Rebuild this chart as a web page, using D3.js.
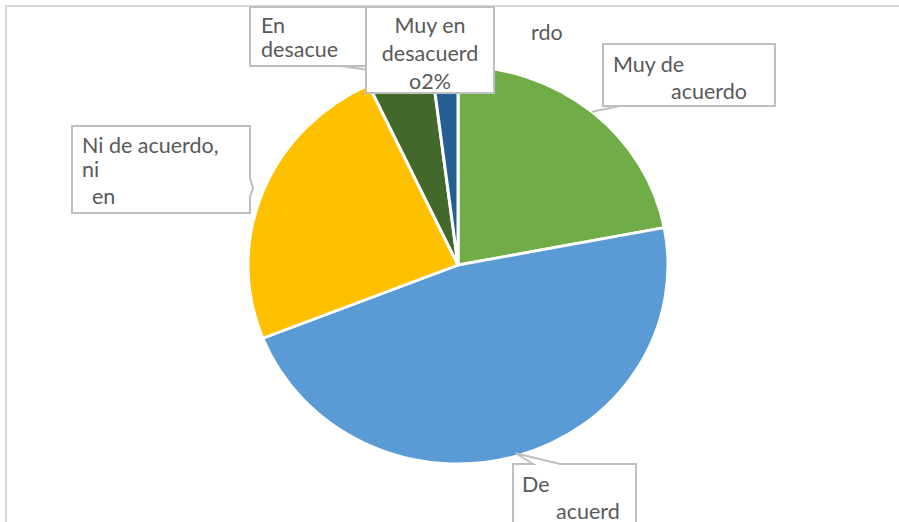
<!DOCTYPE html>
<html>
<head>
<meta charset="utf-8">
<script src="https://cdn.jsdelivr.net/npm/d3@7"></script>
<style>
  body { margin: 0; background: #fff; }
  text { font-family: Lato, "Open Sans", sans-serif; font-size: 21.5px; fill: #595959; }
</style>
</head>
<body>
<div id="chart"></div>
<script>
// Data (share of answers, %)
const categories = ["Muy de acuerdo", "De acuerdo", "Ni de acuerdo, ni en desacuerdo", "En desacuerdo", "Muy en desacuerdo"];
const values = [22, 47, 24, 5, 2];
const colors = ["#70ad47", "#5b9bd5", "#ffc000", "#43682b", "#255e91"];
// label text as it is shown (cut off) in the chart
const labelLines = [
    ["Muy de", "acuerdo"],
    ["De", "acuerd"],
    ["Ni de acuerdo,", "ni", "en"],
    ["En", "desacue"],
    ["Muy en", "desacuerd", "o2%"]
];
const strayText = "rdo";

const W = 899, H = 522;
const cx = 458, cy = 265, rx = 210, ry = 199;

const svg = d3.select("#chart").append("svg")
    .attr("width", W)
    .attr("height", H);

// chart frame
svg.append("rect")
    .attr("x", 6).attr("y", 6)
    .attr("width", W + 10).attr("height", H + 10)
    .attr("fill", "none")
    .attr("stroke", "#d9d9d9")
    .attr("stroke-width", 2);

const pie = d3.pie().sort(null).value(d => d);
const arcs = pie(values);
const arc = d3.arc().innerRadius(0).outerRadius(rx);

const pieG = svg.append("g")
    .attr("transform", `translate(${cx},${cy}) scale(1,${ry / rx})`);

pieG.selectAll("path")
    .data(arcs)
    .enter()
    .append("path")
    .attr("d", arc)
    .attr("fill", (d, i) => colors[i])
    .attr("stroke", "#fff")
    .attr("stroke-width", 3);

// point on the pie edge at the middle of a slice
function edgePoint(d, k) {
    const a = (d.startAngle + d.endAngle) / 2;
    return [cx + rx * k * Math.sin(a), cy - ry * k * Math.cos(a)];
}

// label boxes (layout only)
const boxes = [
    { x: 603, y: 44, w: 172, h: 62, lines: [[613, 72], [671, 99]], anchor: "start" },
    { x: 513, y: 464, w: 123, h: 80, lines: [[522, 492], [556, 519]], anchor: "start" },
    { x: 72, y: 126, w: 178, h: 87, lines: [[82, 153], [82, 177], [92, 204]], anchor: "start" },
    { x: 250, y: 7, w: 116, h: 59, lines: [[261, 33], [261, 57]], anchor: "start" },
    { x: 366, y: 7, w: 128, h: 86, lines: [[430, 33], [430, 61], [430, 89]], anchor: "middle" }
];

const lbl = svg.append("g");
const boxStroke = "#bfbfbf";

// leader lines
const pGreen = edgePoint(arcs[0], 1.0);
lbl.append("polyline")
    .attr("points", [pGreen, [620, 106]].map(p => p.join(",")).join(" "))
    .attr("fill", "none").attr("stroke", boxStroke).attr("stroke-width", 2);
const pDark = edgePoint(arcs[3], 1.0);
lbl.append("line")
    .attr("x1", 340).attr("y1", 66)
    .attr("x2", pDark[0]).attr("y2", pDark[1])
    .attr("stroke", boxStroke).attr("stroke-width", 2);

// draw boxes in order so the later ones sit on top
[0, 1, 2, 3, 4].forEach(i => {
    const b = boxes[i];
    let pts;
    if (i === 1) {
        const t = edgePoint(arcs[1], 0.985);
        pts = [[b.x, b.y], [533, b.y], t, [560, b.y], [b.x + b.w, b.y], [b.x + b.w, b.y + b.h], [b.x, b.y + b.h]];
    } else if (i === 2) {
        const t = edgePoint(arcs[2], 1.05);
        pts = [[b.x, b.y], [b.x + b.w, b.y], [b.x + b.w, 178], t, [b.x + b.w, 197], [b.x + b.w, b.y + b.h], [b.x, b.y + b.h]];
    } else {
        pts = [[b.x, b.y], [b.x + b.w, b.y], [b.x + b.w, b.y + b.h], [b.x, b.y + b.h]];
    }
    lbl.append("polygon")
        .attr("points", pts.map(p => p.join(",")).join(" "))
        .attr("fill", "#fff")
        .attr("stroke", boxStroke)
        .attr("stroke-width", 2);
    labelLines[i].forEach((s, j) => {
        lbl.append("text")
            .attr("x", b.lines[j][0])
            .attr("y", b.lines[j][1])
            .attr("text-anchor", b.anchor)
            .text(s);
    });
});

svg.append("text")
    .attr("x", 531).attr("y", 40)
    .text(strayText);
</script>
</body>
</html>
